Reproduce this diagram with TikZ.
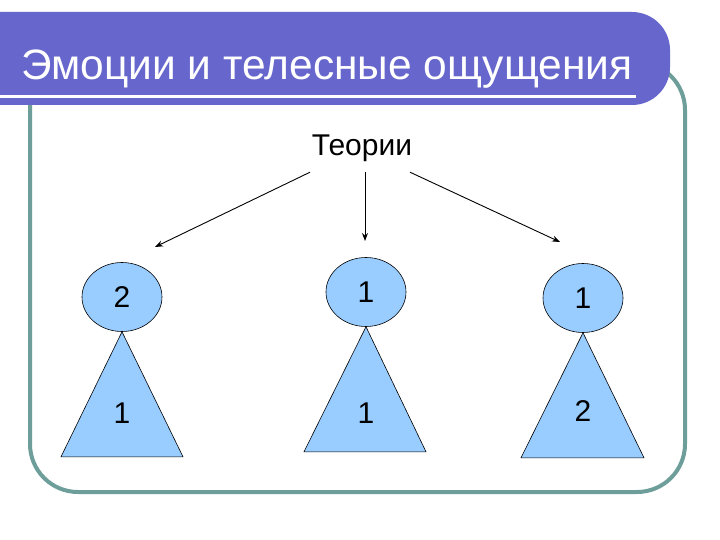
\documentclass[tikz,border=0pt]{standalone}
\usepackage{fontspec}
\setmainfont{Liberation Sans}
\usetikzlibrary{arrows.meta,positioning,shapes.geometric}
\definecolor{cFaixa}{HTML}{6666CC}
\definecolor{cMoldura}{HTML}{6E9E9A}
\definecolor{cAzulClaro}{HTML}{99CCFF}

\begin{document}
\begin{tikzpicture}[
  x=1pt,y=-1pt,
  moldura/.style={draw=cMoldura,line width=4pt,rounded corners=48pt},
  faixa/.style={fill=cFaixa,draw=none,rounded corners=38pt},
  elip/.style={ellipse,draw=black,fill=cAzulClaro,line width=0.6pt,
               minimum width=80pt,minimum height=69pt,inner sep=0pt,font=\fontsize{30}{32}\selectfont},
  tri/.style={draw=black,fill=cAzulClaro,line width=0.6pt},
  num/.style={font=\fontsize{30}{32}\selectfont,inner sep=0pt},
  ar/.style={-{Stealth[length=8pt,width=6pt]},draw=black,line width=0.9pt}
]
\useasboundingbox (0,0) rectangle (720,540);

% ---- moldura e faixa do titulo
\draw[moldura] (30,62) rectangle (685,492);
\fill[faixa] (-60,12) rectangle (670,105);
\draw[white,line width=3pt] (0,97) -- (636,97);
\node[anchor=base west,text=white,inner sep=0pt,font=\fontsize{42.5}{45}\selectfont] (tit) at (21,80)
  {Эмоции и телесные ощущения};

% ---- raiz
\node[font=\fontsize{30}{32}\selectfont,inner sep=0pt,minimum height=48pt] (teo) at (362,148) {Теории};

% ---- elipses
\node[elip] (e1) at (122,297) {2};
\node[elip] (e2) at (366,292) {1};
\node[elip] (e3) at (583,298) {1};

% ---- triangulos
\draw[tri] (e1.south) -- ++(-61,125) -- ++(122,0) -- cycle;
\draw[tri] (e2.south) -- ++(-62,125) -- ++(122,0) -- cycle;
\draw[tri] (e3.south) -- ++(-62,125) -- ++(123,0) -- cycle;
\node[num] (t1) at (122,413) {1};
\node[num] (t2) at (366,413) {1};
\node[num] (t3) at (583,411) {2};

% ---- setas
\coordinate (a1) at (155,247);
\coordinate (a2) at (365,241);
\coordinate (a3) at (560,242);
\draw[ar] ([xshift=-52pt]teo.south) -- (a1);
\draw[ar] ([xshift=3pt]teo.south) -- (a2);
\draw[ar] ([xshift=48pt]teo.south) -- (a3);
\end{tikzpicture}
\end{document}
